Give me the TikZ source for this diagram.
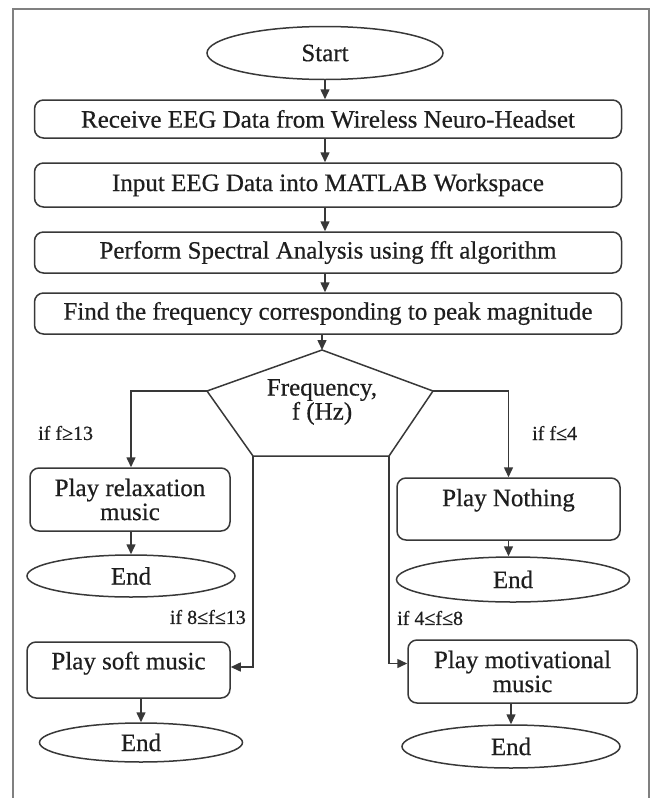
\documentclass[tikz,border=0pt]{standalone}
\usepackage{fontspec}
\setmainfont{Liberation Serif}
\newfontfamily\heavy{Liberation Serif}[FakeBold=0.5]
\usetikzlibrary{shapes.geometric,arrows.meta}
\definecolor{ln}{HTML}{383838}
\definecolor{tx}{HTML}{1E1E1E}
\definecolor{fr}{HTML}{808080}
\begin{document}
\begin{tikzpicture}[x=1pt,y=-1pt,
 box/.style={draw=ln, rounded corners=9pt, line width=1.5pt, inner sep=0pt, align=center, font=\heavy\fontsize{25}{24}\selectfont, text=tx},
 term/.style={draw=ln, ellipse, line width=1.5pt, inner sep=0pt, font=\heavy\fontsize{25}{24}\selectfont, text=tx},
 lbl/.style={font=\heavy\fontsize{20}{22}\selectfont, text=tx, inner sep=0pt},
 arr/.style={-{Triangle[length=10pt,width=9pt]}, draw=ln, line width=1.5pt},
 conn/.style={draw=ln, line width=1.5pt, line join=miter}]
\useasboundingbox (0,0) rectangle (652,798);
\draw[draw=fr, line width=1.8pt] (13,805) -- (13,9) -- (649,9) -- (649,805);

\node[term, minimum width=236pt, minimum height=53pt] (start) at (325,53) {Start};
\node[box, minimum width=587pt, minimum height=38pt] (b1) at (328,119) {Receive EEG Data from Wireless Neuro-Headset};
\node[box, minimum width=587pt, minimum height=44pt] (b2) at (328,185) {Input EEG Data into MATLAB Workspace};
\node[box, minimum width=587pt, minimum height=41pt] (b3) at (328,252.5) {Perform Spectral Analysis using fft algorithm};
\node[box, minimum width=587pt, minimum height=41pt] (b4) at (328,313.5) {Find the frequency corresponding to peak magnitude};

\draw[arr] (start.south) -- (start.south |- b1.north);
\draw[arr] (b1.south -| start.south) -- (b2.north -| start.south);
\draw[arr] (b2.south -| start.south) -- (b3.north -| start.south);
\draw[arr] (b3.south -| start.south) -- (b4.north -| start.south);

\coordinate (p1) at (322,350);
\coordinate (p2) at (433,391);
\coordinate (p3) at (389,456);
\coordinate (p4) at (253,456);
\coordinate (p5) at (207,391);
\draw[conn] (p1) -- (p2) -- (p3) -- (p4) -- (p5) -- cycle;
\node[align=center, font=\heavy\fontsize{25}{24}\selectfont, text=tx, inner sep=0pt] (freq) at (322,402) {Frequency,\\f (Hz)};
\draw[arr] (b4.south -| p1) -- (p1);

\node[box, minimum width=200pt, minimum height=63pt] (relax) at (130,499.5) {Play relaxation\\music};
\node[term, minimum width=208pt, minimum height=42pt] (e1) at (131,576) {End};
\node[box, minimum width=223pt, minimum height=62pt, text depth=23pt] (noth) at (508.5,509) {Play Nothing};
\node[term, minimum width=233pt, minimum height=45pt] (e2) at (513,579.5) {End};
\node[box, minimum width=203pt, minimum height=56pt, text depth=19pt] (soft) at (128.5,670) {Play soft music};
\node[term, minimum width=203pt, minimum height=39pt] (e3) at (141,742.5) {End};
\node[box, minimum width=229pt, minimum height=63pt] (moti) at (522.5,671.5) {Play motivational\\music};
\node[term, minimum width=218pt, minimum height=43pt] (e4) at (511,746.5) {End};

\draw[arr] (p5) -- (p5 -| e1.north) -- (e1.north |- relax.north);
\draw[arr] (p2) -- (p2 -| noth.north) -- (noth.north);
\draw[arr] (p4) -- ([yshift=3pt]p4 |- soft.east) -- ([yshift=3pt]soft.east);
\draw[arr] (p3) -- ([yshift=8pt]p3 |- moti.west) -- ([yshift=8pt]moti.west);

\draw[arr] (e1.north |- relax.south) -- (e1.north);
\draw[arr] (noth.south) -- (noth.south |- e2.north);
\draw[arr] (e3.north |- soft.south) -- (e3.north);
\draw[arr] (e4.north |- moti.south) -- (e4.north);

\node[lbl, anchor=west] (l1) at (38,433) {if f≥13};
\node[lbl, anchor=west] (l2) at (532,433) {if f≤4};
\node[lbl, anchor=east] (l3) at (246,617) {if 8≤f≤13};
\node[lbl, anchor=west] (l4) at (397,618) {if 4≤f≤8};
\end{tikzpicture}
\end{document}
